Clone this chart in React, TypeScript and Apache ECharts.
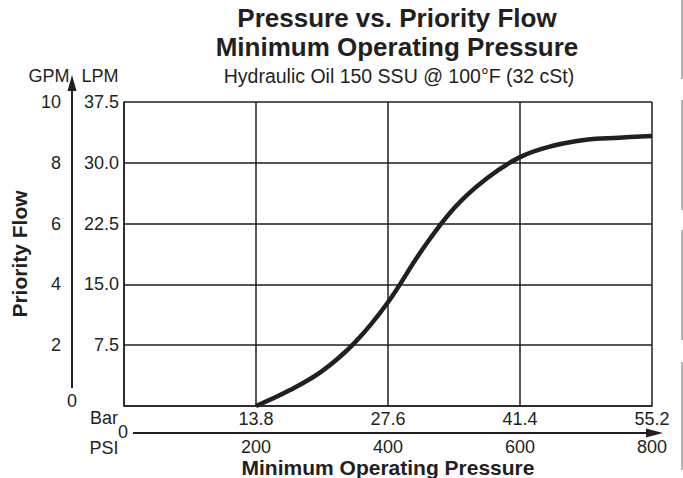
import React, { useEffect, useRef } from "react";
import * as echarts from "echarts";

// Pressure in PSI (x) vs priority flow in LPM (y)
const pressurePsi = [200, 250, 300, 350, 400, 450, 500, 550, 600, 650, 700, 750, 800];
const flowLpm = [0, 1.9, 4.3, 7.85, 12.8, 19.05, 24.4, 28.1, 30.7, 32.1, 32.85, 33.1, 33.3];
const PSI_TO_BAR = 0.069;
const lpmTicks = [0, 7.5, 15, 22.5, 30, 37.5];
const gpmTicks = [0, 2, 4, 6, 8, 10];
const psiTicks = [0, 200, 400, 600, 800];

const INK = "#231f20";
const FONT = "Liberation Sans";

export default function App() {
  const ref = useRef<HTMLDivElement>(null);
  useEffect(() => {
    if (!ref.current) return;
    const chart = echarts.init(ref.current, null, { renderer: "svg" });
    const L = 124, T = 102, R = 652, B = 406;
    const labelStyle = { fontSize: 18, color: INK, fontFamily: FONT };
    const txt = (text: string, x: number, y: number) => ({
      type: "text",
      x,
      y,
      style: { text, fill: INK, font: `18px "${FONT}"`, align: "center", verticalAlign: "middle" },
    });
    chart.setOption({
      animation: false,
      backgroundColor: "#ffffff",
      title: [
        {
          text: "Pressure vs. Priority Flow\nMinimum Operating Pressure",
          left: 392,
          top: -2,
          textAlign: "center",
          textStyle: { fontSize: 26, fontWeight: "bold", color: INK, fontFamily: FONT, lineHeight: 29 },
        },
        {
          text: "Hydraulic Oil 150 SSU @ 100°F (32 cSt)",
          left: 394,
          top: 61,
          textAlign: "center",
          textStyle: { fontSize: 19.5, fontWeight: "normal", color: INK, fontFamily: FONT },
        },
      ],
      grid: { left: L, top: T, right: 683 - R, bottom: 478 - B, containLabel: false, outerBoundsMode: "none" },
      xAxis: [
        {
          type: "value",
          min: psiTicks[0],
          max: psiTicks[psiTicks.length - 1],
          interval: 200,
          axisLine: { show: true, lineStyle: { color: INK, width: 1.5 } },
          axisTick: { show: false },
          splitLine: { show: true, lineStyle: { color: INK, width: 1.5 } },
          axisLabel: {
            ...labelStyle,
            margin: 4,
            formatter: (v: number) => (v === 0 ? "" : (v * PSI_TO_BAR).toFixed(1)),
          },
        },
        {
          type: "value",
          position: "bottom",
          offset: 27,
          min: psiTicks[0],
          max: psiTicks[psiTicks.length - 1],
          interval: 200,
          axisLine: { show: false },
          axisTick: { show: false },
          splitLine: { show: false },
          axisLabel: {
            ...labelStyle,
            margin: 6,
            lineHeight: 16,
            formatter: (v: number) => (v === 0 ? "" : String(v)),
          },
          name: "Minimum Operating Pressure",
          nameLocation: "middle",
          nameGap: 24,
          nameMoveOverlap: false,
          nameTextStyle: { fontSize: 21, fontWeight: "bold", color: INK, fontFamily: FONT, lineHeight: 20 },
        },
      ],
      yAxis: [
        {
          type: "value",
          min: lpmTicks[0],
          max: lpmTicks[lpmTicks.length - 1],
          interval: 7.5,
          axisLine: { show: true, lineStyle: { color: INK, width: 1.5 } },
          axisTick: { show: false },
          splitLine: { show: true, lineStyle: { color: INK, width: 1.5 } },
          axisLabel: {
            ...labelStyle,
            margin: 5,
            formatter: (v: number) => (v === 0 ? "" : v.toFixed(1)),
          },
        },
        {
          type: "value",
          position: "left",
          offset: L - 72,
          min: gpmTicks[0],
          max: gpmTicks[gpmTicks.length - 1],
          interval: 2,
          axisLine: { show: false },
          axisTick: { show: false },
          splitLine: { show: false },
          axisLabel: {
            ...labelStyle,
            margin: 11,
            formatter: (v: number) => (v === 0 ? "" : String(v)),
          },
          name: "Priority Flow",
          nameLocation: "middle",
          nameRotate: 90,
          nameGap: 42,
          nameMoveOverlap: false,
          nameTextStyle: { fontSize: 21, fontWeight: "bold", color: INK, fontFamily: FONT },
        },
      ],
      series: [
        {
          type: "line",
          xAxisIndex: 0,
          yAxisIndex: 0,
          data: pressurePsi.map((p, i) => [p, flowLpm[i]]),
          smooth: 0.4,
          showSymbol: false,
          lineStyle: { color: INK, width: 4.5 },
        },
      ],
      graphic: [
        { type: "line", shape: { x1: 72, y1: 388, x2: 72, y2: 88 }, style: { stroke: INK, lineWidth: 2 } },
        { type: "polygon", shape: { points: [[72, 75], [67.5, 91], [76.5, 91]] }, style: { fill: INK } },
        { type: "line", shape: { x1: 133, y1: 433, x2: 650, y2: 433 }, style: { stroke: INK, lineWidth: 2 } },
        { type: "polygon", shape: { points: [[663, 433], [646, 428.5], [646, 437.5]] }, style: { fill: INK } },
        txt("GPM", 49, 76),
        txt("LPM", 100, 76),
        txt("Bar", 104, 418),
        txt("PSI", 104, 448),
        txt("0", 123, 432),
        txt("0", 72, 401),
        { type: "line", shape: { x1: 682, y1: 0, x2: 682, y2: 79 }, style: { stroke: "#9a9a9a", lineWidth: 1.5 } },
        { type: "line", shape: { x1: 682, y1: 100, x2: 682, y2: 210 }, style: { stroke: "#9a9a9a", lineWidth: 1.5 } },
        { type: "line", shape: { x1: 682, y1: 230, x2: 682, y2: 340 }, style: { stroke: "#9a9a9a", lineWidth: 1.5 } },
        { type: "line", shape: { x1: 682, y1: 362, x2: 682, y2: 470 }, style: { stroke: "#9a9a9a", lineWidth: 1.5 } },
      ],
    });
    return () => chart.dispose();
  }, []);
  return (
    <div
      ref={ref}
      style={{ position: "absolute", left: 0, top: 0, width: 683, height: 478 }}
    />
  );
}
